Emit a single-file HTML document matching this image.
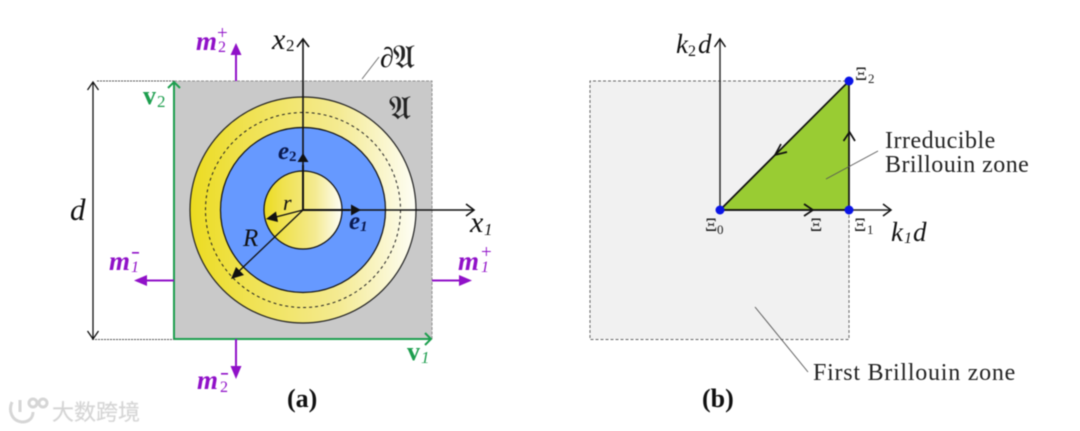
<!DOCTYPE html>
<html>
<head>
<meta charset="utf-8">
<style>
html,body{margin:0;padding:0;background:#fff;width:1080px;height:431px;overflow:hidden}
svg{display:block;filter:blur(0.45px)}
text{font-family:"Liberation Serif","DejaVu Serif",serif}
.m{font-style:italic}
.u{font-style:normal;font-weight:normal}
.i{font-style:italic;font-weight:normal}
.b{font-weight:bold}
</style>
</head>
<body>
<svg width="1080" height="431" viewBox="0 0 1080 431" xmlns="http://www.w3.org/2000/svg">
<defs>
<linearGradient id="g1" x1="0" x2="1" y1="0" y2="0">
<stop offset="0" stop-color="#ecdc20"/><stop offset="0.25" stop-color="#f0e250"/><stop offset="0.65" stop-color="#f4ea90"/><stop offset="1" stop-color="#fefef6"/>
</linearGradient>
</defs>

<!-- Panel a -->
<rect x="174" y="81" width="258" height="258" fill="#c9c9c9"/>
<path d="M174 81H432V339" fill="none" stroke="#8f8f8f" stroke-width="1" stroke-dasharray="3 1.5"/>
<path d="M97 81H174M92 339.500H174" stroke="#555" stroke-width="1" stroke-dasharray="2 1" fill="none"/>
<circle cx="303" cy="210" r="113" fill="url(#g1)" stroke="#222" stroke-width="1.200"/>
<circle cx="303" cy="210" r="97.500" fill="none" stroke="#222" stroke-width="1" stroke-dasharray="3 3"/>
<circle cx="303" cy="210" r="82.500" fill="#6699ff" stroke="#111" stroke-width="1.200"/>
<circle cx="303" cy="210" r="39" fill="url(#g1)" stroke="#111" stroke-width="1.200"/>

<!-- green -->
<path d="M174 339V82M174 339H431" stroke="#1d9e4e" stroke-width="2" fill="none"/>
<path d="M168 88L174 82L180 88M425 333L431 339L425 345" stroke="#1d9e4e" stroke-width="2" fill="none"/>

<!-- d arrow -->
<path d="M93 82V339" stroke="#111" stroke-width="1.300"/>
<path d="M87.500 90L93 82L98.500 90M87.500 331L93 339L98.500 331" stroke="#111" stroke-width="1.300" fill="none"/>

<!-- axes -->
<path d="M303 210V39M303 210H474" stroke="#111" stroke-width="1.600" fill="none"/>
<path d="M297 47L303 39L309 47M466 204L474 210L466 216" stroke="#111" stroke-width="1.600" fill="none"/>
<path d="M303 210V165" stroke="#111" stroke-width="2"/>
<path d="M297.500 162H308.500L303 153Z" fill="#111"/>
<path d="M303 210H350" stroke="#111" stroke-width="2"/>
<path d="M351 204.500V215.500L361 210Z" fill="#111"/>
<path d="M303 210L272 218" stroke="#111" stroke-width="1.300"/>
<path d="M266 219L276 211.500L278 222Z" fill="#111"/>
<path d="M303 210L237 273" stroke="#111" stroke-width="1.300"/>
<path d="M231 279L236 267L244 275Z" fill="#111"/>

<!-- purple -->
<g stroke="#9011c8" stroke-width="2" fill="none">
<path d="M236 81V50M432 280.500H460M174 280.500H144M236 339V368"/>
</g>
<g fill="#9011c8">
<path d="M230.500 55H241.500L236 43Z"/>
<path d="M459 275V286L472 280.500Z"/>
<path d="M147 275V286L134 280.500Z"/>
<path d="M230.500 366H241.500L236 379Z"/>
</g>

<!-- boundary leader -->
<path d="M362 79L379 57" stroke="#666" stroke-width="0.900"/>

<!-- Panel a labels -->
<g fill="#9011c8">
<text x="196" y="50" font-size="27" class="m b">m</text>
<text x="217" y="39" font-size="19" class="u">+</text>
<text x="218" y="52" font-size="16" class="u">2</text>
<text x="109" y="270" font-size="27" class="m b">m</text>
<rect x="132" y="252" width="7" height="1.600"/>
<text x="131" y="272" font-size="16" class="i">1</text>
<text x="458" y="270" font-size="27" class="m b">m</text>
<text x="481" y="258" font-size="19" class="u">+</text>
<text x="481" y="272" font-size="16" class="i">1</text>
<text x="197" y="389" font-size="27" class="m b">m</text>
<rect x="221" y="373" width="7" height="1.600"/>
<text x="220" y="392" font-size="16" class="u">2</text>
</g>
<text x="143" y="104" font-size="26" font-weight="bold" fill="#1d9e4e">v</text>
<text x="157" y="107" font-size="17" fill="#1d9e4e">2</text>
<text x="407" y="360" font-size="26" font-weight="bold" fill="#1d9e4e">v</text>
<text x="421" y="363" font-size="17" fill="#1d9e4e" class="m">1</text>

<text x="272" y="49" font-size="30" class="m" fill="#111">x</text>
<text x="286" y="51" font-size="17" fill="#111">2</text>
<text x="470" y="232" font-size="30" class="m" fill="#111">x</text>
<text x="484" y="235" font-size="17" fill="#111" class="m">1</text>
<text x="70" y="220" font-size="31" class="m" fill="#111">d</text>
<text x="278" y="159" font-size="25" class="m b" fill="#0a1a50">e</text>
<text x="289" y="161" font-size="15" fill="#0a1a50" class="b">2</text>
<text x="349" y="229" font-size="25" class="m b" fill="#0a1a50">e</text>
<text x="360" y="231" font-size="15" fill="#0a1a50" class="m b">1</text>
<text x="283" y="210" font-size="22" class="m" fill="#111">r</text>
<text x="243" y="246" font-size="25" class="m" fill="#111">R</text>
<text x="380" y="67" font-size="28" class="m" fill="#111">∂</text>
<text x="393" y="68" font-size="33" fill="#222" font-family="DejaVu Serif" stroke="#222" stroke-width="0.300">𝔄</text>
<text x="389" y="119" font-size="33" fill="#222" font-family="DejaVu Serif" stroke="#222" stroke-width="0.300">𝔄</text>
<text x="287" y="407" font-size="26" font-weight="bold" fill="#111">(a)</text>

<!-- Panel b -->
<rect x="590" y="81" width="259" height="258" fill="#f1f1f1"/>
<path d="M849 210V339.500H590V81H849" fill="none" stroke="#666" stroke-width="1" stroke-dasharray="3 2"/>
<path d="M720 210L849 81V210Z" fill="#99cc33"/>
<path d="M720 210V39M720 210H890" stroke="#222" stroke-width="1.400" fill="none"/>
<path d="M714.500 47L720 39L725.500 47M883 204L891 210L883 216" stroke="#111" stroke-width="1.500" fill="none"/>
<path d="M720 210H849V81L720 210" stroke="#111" stroke-width="1.700" fill="none"/>
<path d="M804 204L813 210L804 216M843.500 141L849.500 132L855 141M781 144L775 155L787 152" stroke="#111" stroke-width="1.700" fill="none"/>
<circle cx="720" cy="210" r="4.500" fill="#0a14e6"/>
<circle cx="849" cy="210" r="4.500" fill="#0a14e6"/>
<circle cx="849" cy="81" r="4.500" fill="#0a14e6"/>
<path d="M826 179L878 151" stroke="#555" stroke-width="0.800"/>
<path d="M755 307L808 372" stroke="#555" stroke-width="0.900"/>

<g fill="#222">
<text x="855" y="80" font-size="19">Ξ</text><text x="868" y="83" font-size="13">2</text>
<text x="705" y="231" font-size="19">Ξ</text><text x="717" y="234" font-size="13">0</text>
<text x="810" y="231" font-size="19">Ξ</text>
<text x="854" y="231" font-size="19">Ξ</text><text x="867" y="234" font-size="13">1</text>
<text x="885" y="148" font-size="24" letter-spacing="0.500">Irreducible</text>
<text x="885" y="172" font-size="24" letter-spacing="0.450">Brillouin zone</text>
<text x="813" y="380" font-size="24" letter-spacing="0.750">First Brillouin zone</text>
</g>
<text x="676" y="53" font-size="27" class="m" fill="#111">k</text>
<text x="688" y="56" font-size="16" fill="#111">2</text>
<text x="698" y="53" font-size="27" class="m" fill="#111">d</text>
<text x="891" y="241" font-size="27" class="m" fill="#111">k</text>
<text x="904" y="243" font-size="16" class="m" fill="#111">1</text>
<text x="913" y="241" font-size="27" class="m" fill="#111">d</text>
<text x="702" y="407" font-size="26" font-weight="bold" fill="#111">(b)</text>

<!-- Watermark -->
<g fill="none" stroke="#d6d6d6" stroke-width="3">
<path d="M12 402C8 411 12 421 22 422C29 422 33 418 33 412"/>
<path d="M20 400V412"/>
<circle cx="33" cy="403" r="4"/><circle cx="43" cy="403" r="4"/>
</g>
<text x="52" y="420" font-size="22" fill="#d2d2d2" stroke="#e4e4e4" stroke-width="0.500" style="font-family:'Noto Sans CJK SC','WenQuanYi Zen Hei',sans-serif">大数跨境</text>
</svg>
</body>
</html>
